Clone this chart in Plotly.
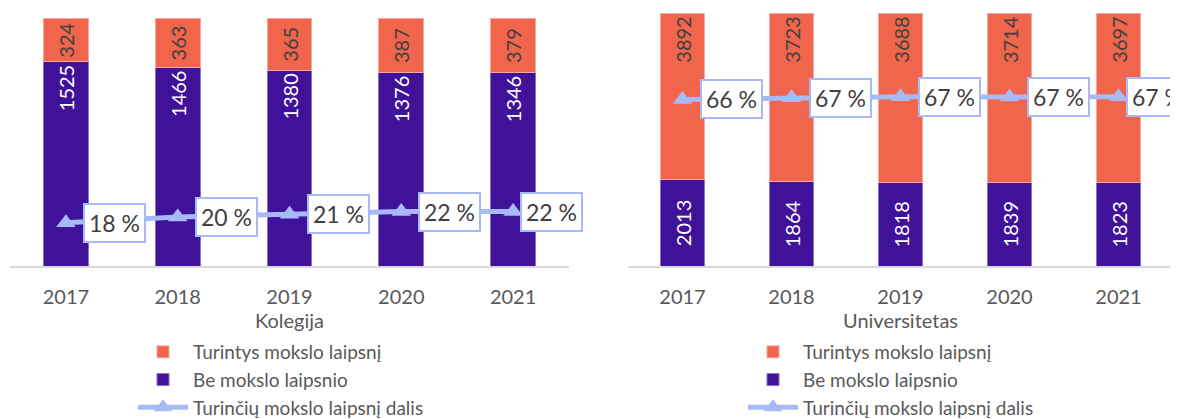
import plotly.graph_objects as go

years = ['2017', '2018', '2019', '2020', '2021']

# Kolegija
kol_be = [1525, 1466, 1380, 1376, 1346]
kol_tur = [324, 363, 365, 387, 379]
kol_dalis = [17.5, 19.8, 20.9, 22.0, 22.0]  # %

# Universitetas
uni_be = [2013, 1864, 1818, 1839, 1823]
uni_tur = [3892, 3723, 3688, 3714, 3697]
uni_dalis = [65.9, 66.6, 67.0, 66.9, 67.0]  # %

ORANGE = '#F0654B'
PURPLE = '#40129A'
BLUE = '#A8BAF5'
FONT = 'Lato'

fig = go.Figure()


def add_panel(xa, ya, be, tur, dalis, legend, be_anchor, tur_anchor):
    fig.add_trace(go.Bar(
        x=years, y=be, name='Be mokslo laipsnio', xaxis=xa, yaxis=ya,
        marker=dict(color=PURPLE, line=dict(width=1, color='#8B6FD0')),
        text=[str(v) for v in be], textposition='inside', textangle=-90,
        insidetextanchor=be_anchor, constraintext='none',
        textfont=dict(color='white', size=20, family=FONT),
        legend=legend, legendrank=2,
    ))
    fig.add_trace(go.Bar(
        x=years, y=tur, name='Turintys mokslo laipsnį', xaxis=xa, yaxis=ya,
        marker=dict(color=ORANGE, line=dict(width=1, color='#F8A8A0')),
        text=[str(v) for v in tur], textposition='inside', textangle=-90,
        insidetextanchor=tur_anchor, constraintext='none',
        textfont=dict(color='#404040', size=20, family=FONT),
        legend=legend, legendrank=1,
    ))
    fig.add_trace(go.Scatter(
        x=years, y=dalis, name='Turinčių mokslo laipsnį dalis', xaxis=xa, yaxis=ya,
        mode='lines+markers', line=dict(color=BLUE, width=5),
        marker=dict(symbol='triangle-up', size=17, color=BLUE),
        legend=legend, legendrank=3,
    ))
    # category index positions on the category axis; last label squeezed in
    for i, v in enumerate(dalis):
        fig.add_annotation(
            x=i, y=v, xref=xa, yref=ya, xanchor='left',
            xshift=17 if i < len(dalis) - 1 else 7,
            text=f'{round(v)} %', showarrow=False,
            font=dict(size=23, color='#404040', family=FONT),
            bgcolor='white', bordercolor=BLUE, borderwidth=2, borderpad=4,
        )


add_panel('x', 'y', kol_be, kol_tur, kol_dalis, 'legend', 'end', 'middle')
add_panel('x2', 'y2', uni_be, uni_tur, uni_dalis, 'legend2', 'middle', 'end')

xcommon = dict(type='category', range=[-0.5, 4.5], showline=True,
               linecolor='#D9D9D9', linewidth=2,
               ticks='', tickfont=dict(size=20, color='#595959', family=FONT),
               ticklabelstandoff=12, showgrid=False)
ycommon = dict(visible=False, showgrid=False, zeroline=False)

legcommon = dict(font=dict(size=19, color='#595959', family=FONT),
                 bgcolor='rgba(0,0,0,0)', yanchor='top', y=-0.26,
                 tracegroupgap=0, itemwidth=50, traceorder='normal')

fig.update_layout(
    width=1178, height=419,
    margin=dict(l=0, r=0, t=0, b=153),
    barmode='stack', barnorm='percent', bargap=0.6,
    plot_bgcolor='white', paper_bgcolor='white',
    font=dict(family=FONT),
    xaxis=dict(domain=[2 / 1178, 561 / 1178], anchor='y',
               title=dict(text='Kolegija', standoff=0,
                          font=dict(size=20, color='#595959', family=FONT)),
               **xcommon),
    xaxis2=dict(domain=[620 / 1178, 1165 / 1178], anchor='y2',
                title=dict(text='Universitetas', standoff=0,
                           font=dict(size=20, color='#595959', family=FONT)),
                **xcommon),
    yaxis=dict(range=[0, 104.2], anchor='x', **ycommon),
    yaxis2=dict(range=[0, 102.1], anchor='x2', **ycommon),
    legend=dict(x=125 / 1178, **legcommon),
    legend2=dict(x=735 / 1178, **legcommon),
)

fig.write_html("out.html")
